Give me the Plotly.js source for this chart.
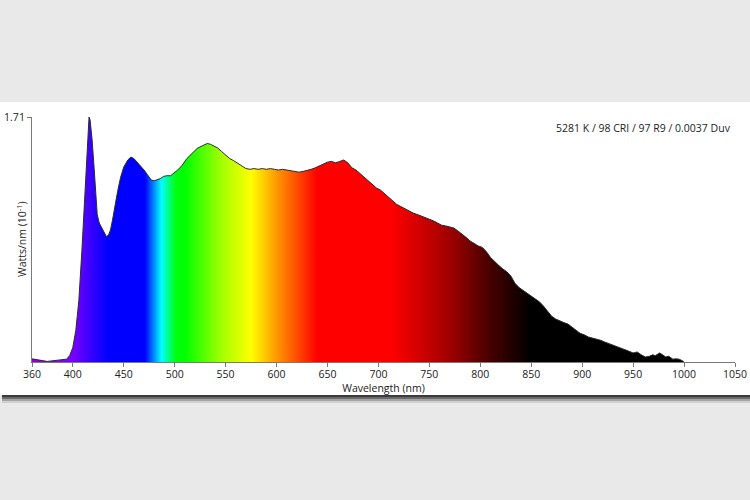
<!DOCTYPE html>
<html>
<head>
<meta charset="utf-8">
<script src="https://cdn.plot.ly/plotly-3.0.1.min.js"></script>
<style>
html,body{margin:0;padding:0;background:#e9e9e9;}
#chart{width:750px;height:500px;}
</style>
</head>
<body>
<div id="chart"></div>
<script>
// Wavelength (nm)
var wavelengths = [360,365,370,375,380,385,390,394,397,400,403,406,409,411,413,415,416,417,419,421,422,424,426,428,431,433,435,437,439,441,444,447,450,454,457,460,464,467,470,473,477,480,483,486,489,492,496,499,503,507,512,517,522,526,529,532,535,538,542,546,550,554,558,562,566,570,574,578,582,586,590,594,598,602,606,610,614,618,622,626,630,634,638,642,646,650,654,658,662,666,670,674,678,682,686,690,694,698,702,706,710,714,718,722,726,730,734,738,742,746,750,754,758,762,766,770,774,778,782,786,790,794,798,802,806,810,814,818,822,826,830,834,838,842,846,850,854,858,862,866,870,874,878,882,886,890,894,898,902,906,910,914,918,922,926,930,934,938,942,946,950,954,958,962,966,969,972,976,979,982,985,989,992,995,998,1000];
// Spectral power (Watts/nm, 10^-1)
var power = [0.022,0.018,0.010,0.004,0.008,0.012,0.012,0.020,0.045,0.10,0.22,0.43,0.78,1.05,1.36,1.62,1.71,1.69,1.55,1.35,1.22,1.03,0.97,0.94,0.895,0.876,0.885,0.92,0.99,1.08,1.19,1.29,1.36,1.41,1.43,1.42,1.39,1.37,1.34,1.31,1.27,1.265,1.27,1.28,1.295,1.30,1.30,1.315,1.34,1.37,1.42,1.455,1.49,1.505,1.515,1.525,1.52,1.51,1.495,1.47,1.445,1.42,1.405,1.385,1.37,1.35,1.345,1.35,1.345,1.35,1.345,1.35,1.345,1.34,1.345,1.34,1.335,1.335,1.325,1.33,1.335,1.345,1.355,1.37,1.385,1.395,1.40,1.39,1.40,1.41,1.39,1.355,1.34,1.315,1.29,1.265,1.24,1.215,1.20,1.175,1.15,1.125,1.10,1.085,1.07,1.05,1.04,1.03,1.02,1.01,1.00,0.985,0.97,0.955,0.95,0.94,0.935,0.915,0.895,0.87,0.845,0.825,0.81,0.80,0.77,0.73,0.70,0.675,0.65,0.63,0.60,0.55,0.52,0.50,0.48,0.465,0.44,0.42,0.39,0.355,0.32,0.30,0.285,0.275,0.265,0.245,0.225,0.20,0.19,0.175,0.167,0.16,0.152,0.14,0.13,0.12,0.105,0.098,0.085,0.075,0.063,0.07,0.05,0.035,0.04,0.05,0.045,0.063,0.05,0.035,0.04,0.02,0.022,0.02,0.01,0];

var xTickVals = [360,400,450,500,550,600,650,700,750,800,850,900,950,1000,1050];
var xTickText = ['360','400','450','500','550','600','650','700','750','800','850','900','950','1000','1050'];
var yTickVals = [1.71];
var yTickText = ['1.71'];
var infoText = '5281 K / 98 CRI / 97 R9 / 0.0037 Duv';

// spectrum colours by wavelength
var gradWl = [360,400,420,435,471,487,501,510,545,575,600,640,712,770,810,850,1000];
var gradCol = ['#8c00e0','#7800ff','#3000ff','#0000ff','#0000ff','#00ffff','#00ff10','#00ff00','#a0ff00','#ffff00','#ff9900','#ff0000','#ff0000','#a00000','#450000','#000000','#000000'];
var colorscale = gradWl.map(function(w,i){return [(w-360)/640, gradCol[i]];});

// layout geometry
var L=32, R=15, T=117, B=138, W=750, H=500;
var pw = W-L-R, ph = H-T-B;
function px(x){return (x-L)/pw;}
function py(y){return (H-B-y)/ph;}

var shapes = [
  {type:'rect', xref:'paper', yref:'paper', x0:px(0), x1:px(750), y0:py(395), y1:py(102), fillcolor:'#ffffff', line:{width:0}, layer:'below'},
  {type:'rect', xref:'paper', yref:'paper', x0:px(2), x1:px(750), y0:py(397), y1:py(395), fillcolor:'#3a3a3a', line:{width:0}, layer:'below'},
  {type:'rect', xref:'paper', yref:'paper', x0:px(2), x1:px(750), y0:py(399), y1:py(397), fillcolor:'#6a6a6a', line:{width:0}, layer:'below'},
  {type:'rect', xref:'paper', yref:'paper', x0:px(2), x1:px(750), y0:py(401), y1:py(399), fillcolor:'#a5a5a5', line:{width:0}, layer:'below'},
  {type:'rect', xref:'paper', yref:'paper', x0:px(2), x1:px(750), y0:py(403), y1:py(401), fillcolor:'#d0d0d0', line:{width:0}, layer:'below'}
];

var font = {family:'"Open Sans", "Noto Sans", sans-serif', size:10.5, color:'#222222'};

var trace = {
  x: wavelengths, y: power, type:'scatter', mode:'lines',
  line:{color:'#2a2a2a', width:1},
  fill:'tozeroy',
  fillgradient:{type:'horizontal', start:360, stop:1000, colorscale:colorscale},
  hoverinfo:'skip'
};

var layout = {
  width:W, height:H,
  margin:{l:L, r:R, t:T, b:B, pad:0},
  paper_bgcolor:'#e9e9e9',
  plot_bgcolor:'rgba(0,0,0,0)',
  showlegend:false,
  font:font,
  shapes:shapes,
  xaxis:{range:[360,1050], tickvals:xTickVals, ticktext:xTickText, ticks:'outside', ticklen:4, tickcolor:'#7a7a7a',
         ticklabelstandoff:-2,
         showline:true, linecolor:'#7a7a7a', linewidth:1, showgrid:false, zeroline:false, fixedrange:true,
         tickfont:font, title:{text:'Wavelength (nm)', font:font, standoff:1}},
  yaxis:{range:[0,1.71], tickvals:yTickVals, ticktext:yTickText, ticks:'outside', ticklen:4, tickcolor:'#7a7a7a',
         showline:true, linecolor:'#7a7a7a', linewidth:1, showgrid:false, zeroline:false, fixedrange:true,
         tickfont:font},
  annotations:[
    {xref:'paper', yref:'paper', x:px(733), y:py(128), xanchor:'right', yanchor:'middle', showarrow:false,
     text:infoText, font:{family:font.family, size:10.5, color:'#222222'}},
    {xref:'paper', yref:'paper', x:px(21), y:py(239), xanchor:'center', yanchor:'middle', showarrow:false, textangle:-90,
     text:'Watts/nm (10<sup>-1</sup>)', font:{family:font.family, size:10.5, color:'#222222'}}
  ]
};

Plotly.newPlot('chart', [trace], layout, {displayModeBar:false, staticPlot:true});
</script>
</body>
</html>
